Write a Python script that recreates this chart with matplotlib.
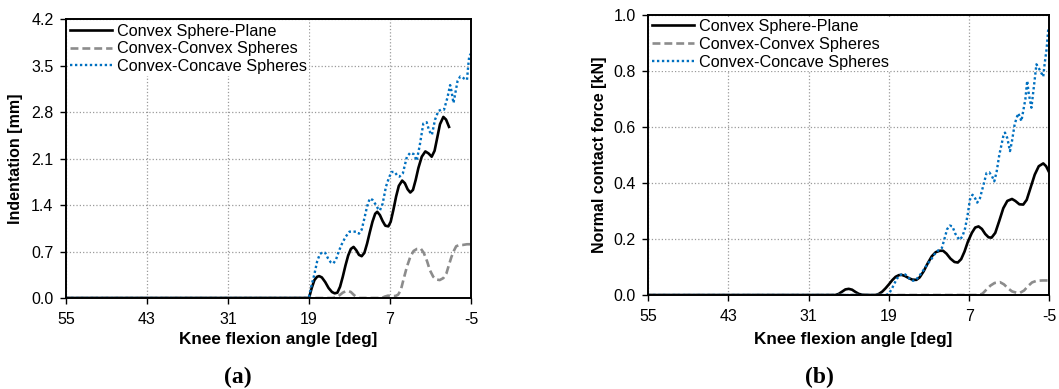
import numpy as np
import matplotlib.pyplot as plt

plt.rcParams['font.family'] = ['Liberation Sans', 'DejaVu Sans']
plt.rcParams['axes.unicode_minus'] = False

series_names = ['Convex Sphere-Plane', 'Convex-Convex Spheres', 'Convex-Concave Spheres']
angle_ticks = [55, 43, 31, 19, 7, -5]

# (a) indentation [mm]
plane_a_x = [55, 19.2, 19.0, 18.6, 18.2, 17.8, 17.5, 17.1, 16.6, 16.1, 15.6, 15.2, 14.8, 14.4, 14.0, 13.6,
             13.2, 12.8, 12.4, 12.0, 11.6, 11.2, 10.8, 10.4, 10.0, 9.6, 9.2, 8.9, 8.5, 8.1, 7.7, 7.25,
             6.9, 6.5, 6.1, 5.7, 5.2, 4.8, 4.4, 4.0, 3.6, 3.2, 2.8, 2.3, 1.77, 1.3, 0.83, 0.4, 0.0,
             -0.4, -0.9, -1.3, -1.74]
plane_a_y = [0, 0, 0.0, 0.15, 0.27, 0.32, 0.33, 0.31, 0.24, 0.15, 0.09, 0.07, 0.08, 0.17, 0.32, 0.49,
             0.64, 0.74, 0.77, 0.72, 0.65, 0.63, 0.68, 0.82, 0.99, 1.15, 1.27, 1.30, 1.25, 1.16, 1.09, 1.08,
             1.15, 1.33, 1.53, 1.69, 1.77, 1.73, 1.64, 1.59, 1.63, 1.78, 1.96, 2.13, 2.21, 2.18, 2.13, 2.22, 2.42,
             2.62, 2.73, 2.69, 2.58]

convex_a_x = [55, 15.5, 15.0, 14.5, 14.0, 13.6, 13.2, 12.8, 12.4, 12.0, 11.6, 8.2, 7.8, 7.3, 6.8, 6.2,
              5.8, 5.4, 5.0, 4.5, 4.0, 3.5, 3.0, 2.45, 2.0, 1.5, 1.1, 0.6, 0.2, -0.36, -0.9, -1.35, -1.7,
              -2.1, -2.5, -2.8, -3.3, -3.8, -4.4, -5.0]
convex_a_y = [0, 0, 0.01, 0.04, 0.08, 0.10, 0.105, 0.09, 0.05, 0.015, 0.0, 0.0, 0.02, 0.035, 0.03, 0.03,
              0.05, 0.12, 0.28, 0.47, 0.62, 0.71, 0.74, 0.745, 0.68, 0.55, 0.42, 0.32, 0.28, 0.27, 0.30, 0.37, 0.49,
              0.62, 0.72, 0.78, 0.80, 0.80, 0.81, 0.81]

concave_a_x = [55, 19.4, 19.0, 18.6, 18.2, 17.8, 17.4, 17.0, 16.6, 16.2, 15.8, 15.4, 15.0, 14.6, 14.2,
               13.6, 13.0, 12.5, 12.0, 11.6, 11.2, 10.8, 10.4, 10.0, 9.6, 9.2, 8.8, 8.5, 8.1, 7.6, 7.2,
               6.8, 6.3, 5.9, 5.6, 5.1, 4.5, 4.0, 3.5, 3.05, 2.6, 2.07, 1.57, 1.2, 0.8, 0.33, -0.16, -0.6,
               -1.0, -1.5, -1.9, -2.1, -2.4, -3.0, -3.4, -3.8, -4.1, -4.4, -4.6, -4.75, -5.0]
concave_a_y = [0, 0, 0.02, 0.2, 0.36, 0.55, 0.66, 0.69, 0.68, 0.60, 0.54, 0.52, 0.58, 0.70, 0.80,
               0.92, 1.00, 1.00, 1.00, 0.97, 1.03, 1.20, 1.38, 1.50, 1.48, 1.42, 1.35, 1.32, 1.42, 1.68, 1.80,
               1.90, 1.90, 1.84, 1.83, 1.88, 2.13, 2.19, 2.17, 2.07, 2.30, 2.63, 2.65, 2.52, 2.46, 2.69, 2.82, 2.84,
               2.84, 3.02, 3.21, 3.12, 2.94, 3.27, 3.34, 3.32, 3.30, 3.29, 3.52, 3.66, 3.68]

# (b) normal contact force [kN]
plane_b_x = [55, 27.0, 26.5, 26.0, 25.5, 25.0, 24.5, 24.0, 23.5, 23.0, 22.0, 21.0, 20.5, 20.0, 19.5, 19.0,
             18.5, 18.0, 17.5, 17.1, 16.6, 16.0, 15.5, 14.9, 14.4, 13.8, 13.2, 12.6, 12.0, 11.4, 10.9, 10.4,
             9.8, 9.2, 8.7, 8.2, 7.7, 7.2, 6.6, 6.1, 5.6, 5.1, 4.6, 4.1, 3.65, 3.1, 2.5, 1.9, 1.3, 0.6, 0.1,
             -0.5, -1.08, -1.6, -2.2, -2.8, -3.4, -4.07, -4.5, -5.0]
plane_b_y = [0, 0, 0.004, 0.012, 0.02, 0.022, 0.019, 0.011, 0.004, 0.001, 0, 0.0, 0.004, 0.012, 0.024, 0.038,
             0.053, 0.065, 0.071, 0.072, 0.068, 0.060, 0.055, 0.054, 0.063, 0.085, 0.113, 0.138, 0.153, 0.158, 0.158, 0.148,
             0.130, 0.118, 0.116, 0.128, 0.155, 0.190, 0.222, 0.241, 0.245, 0.236, 0.218, 0.206, 0.205, 0.222, 0.265, 0.310, 0.336, 0.343, 0.336,
             0.324, 0.323, 0.340, 0.385, 0.430, 0.460, 0.470, 0.460, 0.436]

convex_b_x = [55, 5.6, 5.0, 4.4, 3.8, 3.2, 2.4, 1.8, 1.2, 0.6, -0.1, -0.6, -1.2, -1.8, -2.4, -3.1, -4.0, -5.0]
convex_b_y = [0, 0, 0.005, 0.02, 0.034, 0.043, 0.046, 0.038, 0.024, 0.013, 0.008, 0.008, 0.016, 0.032, 0.045, 0.051, 0.052, 0.052]

concave_b_x = [55, 19.4, 19.0, 18.6, 18.2, 17.8, 17.4, 17.0, 16.6, 16.2, 15.8, 15.4, 15.0, 14.4, 13.8, 13.2,
               12.6, 12.2, 11.6, 11.1, 10.7, 10.3, 9.9, 9.5, 9.1, 8.7, 8.4, 8.0, 7.6, 7.2, 6.9, 6.5, 6.1, 5.8,
               5.4, 4.9, 4.4, 4.0, 3.6, 3.25, 2.9, 2.5, 1.9, 1.65, 1.3, 0.9, 0.6, 0.2, -0.1, -0.33, -0.6, -0.8,
               -1.1, -1.4, -1.67, -1.9, -2.3, -2.7, -3.05, -3.5, -4.07, -4.3, -4.57, -4.8, -5.0]
concave_b_y = [0, 0, 0.005, 0.02, 0.04, 0.058, 0.07, 0.075, 0.074, 0.066, 0.055, 0.051, 0.053, 0.07, 0.09, 0.112,
               0.13, 0.145, 0.16, 0.167, 0.20, 0.235, 0.248, 0.245, 0.22, 0.205, 0.197, 0.21, 0.239, 0.29, 0.34, 0.358, 0.345, 0.33,
               0.345, 0.39, 0.436, 0.438, 0.425, 0.406, 0.44, 0.50, 0.567, 0.58, 0.56, 0.514, 0.55, 0.61, 0.633, 0.649, 0.635, 0.621,
               0.66, 0.70, 0.765, 0.72, 0.669, 0.75, 0.824, 0.806, 0.78, 0.83, 0.878, 0.944, 0.955]

blue = '#0070C0'
gray = '#8C8C8C'


def draw_panel(ax, curves, yticks, ylabel, ylabel_x, xlabel_pos):
    ax.plot(curves[0][0], curves[0][1], color='k', lw=1.9, label=series_names[0])
    ax.plot(curves[1][0], curves[1][1], color=gray, lw=1.9, ls=(0, (3, 1.5)), label=series_names[1])
    ax.plot(curves[2][0], curves[2][1], color=blue, lw=1.7, ls=(0, (1, 1.1)), label=series_names[2])

    ax.set_xlim(55, -5)
    ax.set_ylim(yticks[0], yticks[-1])
    ax.set_xticks(angle_ticks)
    ax.set_yticks(yticks)
    ax.set_yticklabels(['{:.1f}'.format(t) for t in yticks])
    ax.grid(True, color='#9a9a9a', linestyle=':', linewidth=0.9)
    ax.set_axisbelow(True)
    ax.tick_params(direction='out', length=4, width=1, labelsize=11.5)
    ax.tick_params(axis='x', pad=6)
    ax.tick_params(axis='y', pad=5)
    plt.setp(ax.spines.values(), linewidth=1.4)

    ax.set_xlabel('Knee flexion angle [deg]', fontsize=12.3, fontweight='bold')
    ax.xaxis.set_label_coords(xlabel_pos[0], xlabel_pos[1])
    ax.set_ylabel(ylabel, fontsize=11.5, fontweight='bold')
    ax.yaxis.set_label_coords(ylabel_x, 0.5)

    leg = ax.legend(loc='upper left', fontsize=11.7, frameon=True, fancybox=False, borderpad=0.1,
                    borderaxespad=0.15, labelspacing=0.17, handlelength=2.6, handletextpad=0.3)
    leg.get_frame().set_facecolor('white')
    leg.get_frame().set_edgecolor('none')
    leg.get_frame().set_alpha(1)


fig = plt.figure(figsize=(10.59, 3.89), dpi=100)
ax1 = fig.add_axes([0.0623, 0.234, 0.3825, 0.716])
ax2 = fig.add_axes([0.6119, 0.2416, 0.3791, 0.7198])

draw_panel(ax1, [(plane_a_x, plane_a_y), (convex_a_x, convex_a_y), (concave_a_x, concave_a_y)],
           [0.0, 0.7, 1.4, 2.1, 2.8, 3.5, 4.2], 'Indentation [mm]', -0.106, (0.523, -0.123))
draw_panel(ax2, [(plane_b_x, plane_b_y), (convex_b_x, convex_b_y), (concave_b_x, concave_b_y)],
           [0.0, 0.2, 0.4, 0.6, 0.8, 1.0], 'Normal contact force [kN]', -0.102, (0.51, -0.133))

fig.text(238 / 1059, 1 - 377 / 389, '(a)', family='Liberation Serif', fontweight='bold', fontsize=17,
         ha='center', va='center')
fig.text(819 / 1059, 1 - 377 / 389, '(b)', family='Liberation Serif', fontweight='bold', fontsize=17,
         ha='center', va='center')

plt.savefig('out.png', dpi=100)
